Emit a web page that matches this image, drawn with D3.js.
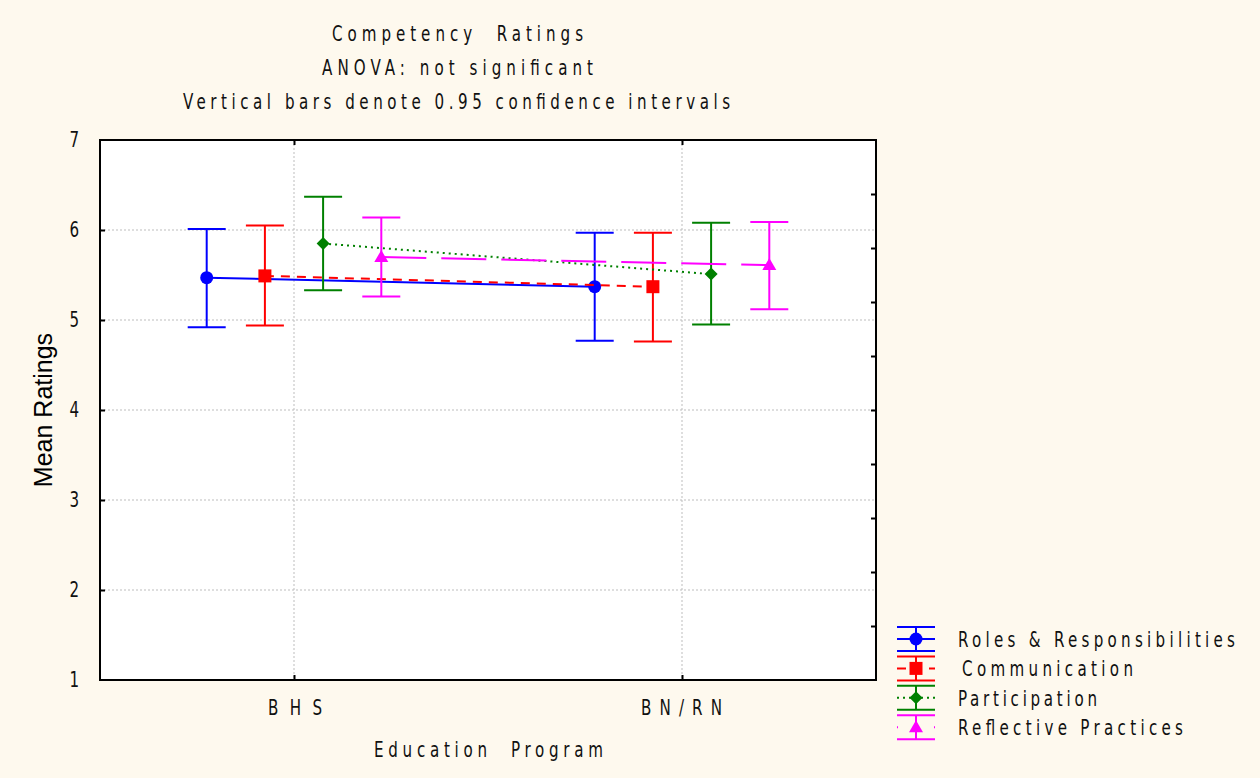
<!DOCTYPE html>
<html>
<head>
<meta charset="utf-8">
<script src="https://cdn.jsdelivr.net/npm/d3@7"></script>
<style>
    html, body { margin: 0; padding: 0; background: #fef9ee; }
    svg { display: block; }
    .narrow { font-family: 'Liberation Sans Narrow', 'DejaVu Sans Condensed', 'Arial Narrow', sans-serif; fill: #111; white-space: pre; }
</style>
</head>
<body>
<div id="chart"></div>
<script>
let categories = ["BHS", "BN/RN"];
let seriesNames = ["Roles & Responsibilities", "Communication", "Participation", "Reflective Practices"];
let seriesColors = ["#0000ff", "#ff0000", "#008000", "#ff00ff"];
let seriesDash = [null, "9,7", "2,4", "45,15"];
let seriesMarkers = ["circle", "square", "diamond", "triangle"];

// means and 0.95 confidence limits, one pair per category
let meanValues = [[5.47, 5.37], [5.49, 5.37], [5.85, 5.51], [5.70, 5.61]];
let lowerValues = [[4.92, 4.77], [4.94, 4.76], [5.33, 4.95], [5.26, 5.12]];
let upperValues = [[6.01, 5.97], [6.05, 5.97], [6.37, 6.08], [6.14, 6.09]];

let yTicks = [1, 2, 3, 4, 5, 6, 7];
let yTicksRight = [1.6, 2.2, 2.8, 3.4, 4.0, 4.6, 5.2, 5.8, 6.4];

let titleLines = ["Competency  Ratings", "ANOVA: not significant", "Vertical bars denote 0.95 confidence intervals"];

let width = 1260, height = 778;
let plot = {left: 100, right: 876, top: 140, bottom: 680};
let squeeze = 0.8;

let svg = d3.select("#chart").append("svg")
    .attr("width", width)
    .attr("height", height);

svg.append("rect")
    .attr("width", width)
    .attr("height", height)
    .attr("fill", "#fef9ee");

// condensed, letter-spaced text like the original Statistica output
function narrowText(parent, px, py, str, span, anchor) {
    let t = parent.append("text")
        .attr("class", "narrow")
        .attr("transform", "translate(" + px + "," + py + ") scale(" + squeeze + ",1)")
        .attr("font-size", 21)
        .attr("text-anchor", anchor || "start")
        .text(str);
    if (span) {
        t.attr("textLength", span / squeeze).attr("lengthAdjust", "spacing");
    }
    return t;
}

let x = d3.scalePoint()
    .domain(categories)
    .range([plot.left, plot.right])
    .padding(0.5);

let offset = d3.scalePoint()
    .domain(seriesNames)
    .range([-0.225 * x.step(), 0.225 * x.step()]);

let y = d3.scaleLinear()
    .domain([1, 7])
    .range([plot.bottom, plot.top]);

svg.append("rect")
    .attr("x", plot.left)
    .attr("y", plot.top)
    .attr("width", plot.right - plot.left)
    .attr("height", plot.bottom - plot.top)
    .attr("fill", "#fff");

// dotted grid
svg.append("g")
    .selectAll("line")
    .data(yTicks.slice(1, -1))
    .enter().append("line")
    .attr("x1", plot.left)
    .attr("x2", plot.right)
    .attr("y1", d => y(d))
    .attr("y2", d => y(d))
    .attr("stroke", "#bdbdbd")
    .attr("stroke-dasharray", "2,2");

svg.append("g")
    .selectAll("line")
    .data(categories)
    .enter().append("line")
    .attr("x1", d => x(d))
    .attr("x2", d => x(d))
    .attr("y1", plot.top)
    .attr("y2", plot.bottom)
    .attr("stroke", "#bdbdbd")
    .attr("stroke-dasharray", "2,2");

// axes, ticks drawn inward
let leftAxis = d3.axisRight(y).tickValues(yTicks.slice(1, -1)).tickSize(5).tickFormat("");
let rightAxis = d3.axisLeft(y).tickValues(yTicksRight).tickSize(5).tickFormat("");
let bottomAxis = d3.axisTop(x).tickSize(5).tickFormat("");
let topAxis = d3.axisBottom(x).tickSize(5).tickFormat("");

svg.append("g").attr("transform", "translate(" + plot.left + ",0)").call(leftAxis);
svg.append("g").attr("transform", "translate(" + plot.right + ",0)").call(rightAxis);
svg.append("g").attr("transform", "translate(0," + plot.bottom + ")").call(bottomAxis);
svg.append("g").attr("transform", "translate(0," + plot.top + ")").call(topAxis);
svg.selectAll(".domain").remove();
svg.selectAll(".tick line").attr("stroke", "#000").attr("stroke-width", 2);

svg.append("rect")
    .attr("x", plot.left)
    .attr("y", plot.top)
    .attr("width", plot.right - plot.left)
    .attr("height", plot.bottom - plot.top)
    .attr("fill", "none")
    .attr("stroke", "#000")
    .attr("stroke-width", 2);

// tick labels and titles
let labels = svg.append("g");
yTicks.forEach(d => narrowText(labels, 79, y(d) + 7, d, null, "end"));

let catLabelSpan = {"BHS": [268, 54], "BN/RN": [641, 81]};
categories.forEach(d => narrowText(labels, catLabelSpan[d][0], 715, d, catLabelSpan[d][1]));

narrowText(labels, 374, 757, "Education  Program", 229);

let titleSpans = [[332, 251], [322, 271], [183, 547]];
titleLines.forEach((d, i) => narrowText(labels, titleSpans[i][0], 41 + i * 34, d, titleSpans[i][1]));

svg.append("text")
    .attr("transform", "translate(52,410) rotate(-90)")
    .attr("text-anchor", "middle")
    .attr("font-family", "'Liberation Sans', Arial, sans-serif")
    .attr("font-size", 25)
    .attr("fill", "#000")
    .text("Mean Ratings");

// markers
function drawMarker(sel, type, color) {
    if (type === "circle") {
        sel.append("circle").attr("r", 6.5).attr("fill", color);
    } else if (type === "square") {
        sel.append("rect").attr("x", -6.5).attr("y", -6.5).attr("width", 13).attr("height", 13).attr("fill", color);
    } else if (type === "diamond") {
        sel.append("path").attr("d", "M0,-6.5L6.5,0L0,6.5L-6.5,0Z").attr("fill", color);
    } else {
        sel.append("path").attr("d", "M0,-7L7,5L-7,5Z").attr("fill", color);
    }
}

let capHalf = 19;

seriesNames.forEach(function (name, s) {
    let color = seriesColors[s];
    let g = svg.append("g");
    let pts = categories.map((c, i) => ({
        x: x(c) + offset(name),
        mean: meanValues[s][i],
        lo: lowerValues[s][i],
        hi: upperValues[s][i]
    }));

    g.append("path")
        .datum(pts)
        .attr("fill", "none")
        .attr("stroke", color)
        .attr("stroke-width", 2)
        .attr("stroke-dasharray", seriesDash[s])
        .attr("d", d3.line().x(d => d.x).y(d => y(d.mean)));

    let bars = g.selectAll(".bar")
        .data(pts)
        .enter().append("g")
        .attr("class", "bar");

    bars.append("line")
        .attr("x1", d => d.x).attr("x2", d => d.x)
        .attr("y1", d => y(d.lo)).attr("y2", d => y(d.hi))
        .attr("stroke", color).attr("stroke-width", 2);
    bars.append("line")
        .attr("x1", d => d.x - capHalf).attr("x2", d => d.x + capHalf)
        .attr("y1", d => y(d.hi)).attr("y2", d => y(d.hi))
        .attr("stroke", color).attr("stroke-width", 2);
    bars.append("line")
        .attr("x1", d => d.x - capHalf).attr("x2", d => d.x + capHalf)
        .attr("y1", d => y(d.lo)).attr("y2", d => y(d.lo))
        .attr("stroke", color).attr("stroke-width", 2);

    bars.append("g")
        .attr("transform", d => "translate(" + d.x + "," + y(d.mean) + ")")
        .each(function () { drawMarker(d3.select(this), seriesMarkers[s], color); });
});

// legend
let legendSpans = [[958, 277], [962, 171], [958, 139], [958, 225]];
let legend = svg.append("g")
    .selectAll("g")
    .data(seriesNames)
    .enter().append("g")
    .attr("transform", (d, i) => "translate(916," + (639 + i * 29.4) + ")");

legend.each(function (name, s) {
    let g = d3.select(this);
    let color = seriesColors[s];
    [-12, 12].forEach(function (dy) {
        g.append("line").attr("x1", -capHalf).attr("x2", capHalf).attr("y1", dy).attr("y2", dy)
            .attr("stroke", color).attr("stroke-width", 2);
    });
    g.append("line").attr("x1", 0).attr("x2", 0).attr("y1", -12).attr("y2", 12)
        .attr("stroke", color).attr("stroke-width", 2);
    g.append("line").attr("x1", -capHalf).attr("x2", capHalf).attr("y1", 0).attr("y2", 0)
        .attr("stroke", color).attr("stroke-width", 2)
        .attr("stroke-dasharray", s === 3 ? "1,36" : seriesDash[s])
        .attr("stroke-dashoffset", s === 3 ? 37 : 0);
    drawMarker(g, seriesMarkers[s], color);
    narrowText(g, legendSpans[s][0] - 916, 8, name, legendSpans[s][1]);
});
</script>
</body>
</html>
